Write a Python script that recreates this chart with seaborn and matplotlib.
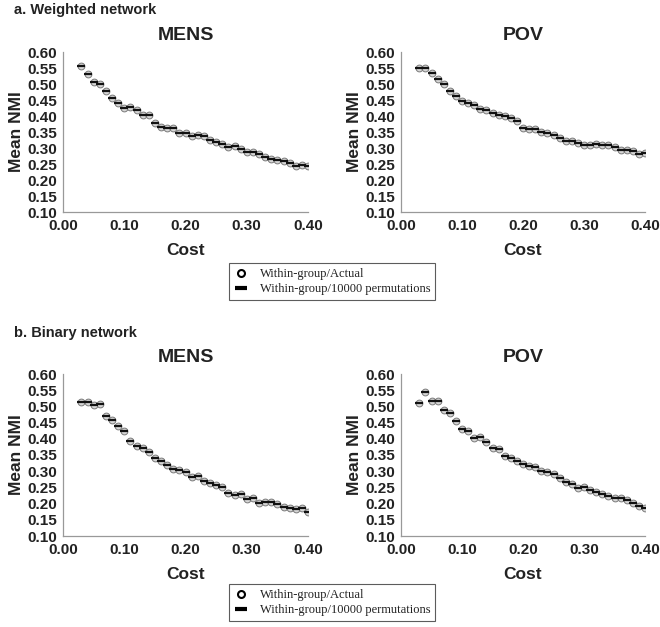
import matplotlib
matplotlib.use('Agg')
import matplotlib.pyplot as plt
from matplotlib.lines import Line2D
import seaborn as sns

sns.set_style('white')
plt.rcParams['font.family'] = ['Liberation Sans', 'DejaVu Sans']
plt.rcParams['font.weight'] = 'bold'
plt.rcParams['text.color'] = '#222222'
plt.rcParams['axes.labelcolor'] = '#222222'
plt.rcParams['xtick.color'] = '#222222'
plt.rcParams['ytick.color'] = '#222222'

# --- データ---
cost = [0.03, 0.04, 0.05, 0.06, 0.07, 0.08, 0.09, 0.10, 0.11, 0.12,
        0.13, 0.14, 0.15, 0.16, 0.17, 0.18, 0.19, 0.20, 0.21, 0.22,
        0.23, 0.24, 0.25, 0.26, 0.27, 0.28, 0.29, 0.30, 0.31, 0.32,
        0.33, 0.34, 0.35, 0.36, 0.37, 0.38, 0.39, 0.40]

weighted_mens = [0.555, 0.530, 0.507, 0.500, 0.478, 0.455, 0.442, 0.425, 0.427, 0.418,
                 0.403, 0.403, 0.378, 0.367, 0.363, 0.362, 0.348, 0.348, 0.337, 0.340,
                 0.338, 0.326, 0.318, 0.313, 0.302, 0.306, 0.298, 0.287, 0.287, 0.281,
                 0.271, 0.267, 0.261, 0.260, 0.252, 0.245, 0.247, 0.243]
weighted_pov = [0.551, 0.551, 0.533, 0.517, 0.500, 0.479, 0.463, 0.447, 0.440, 0.433,
                0.423, 0.418, 0.410, 0.402, 0.399, 0.393, 0.383, 0.363, 0.360, 0.360,
                0.350, 0.347, 0.340, 0.330, 0.323, 0.321, 0.316, 0.310, 0.309, 0.311,
                0.309, 0.309, 0.303, 0.294, 0.294, 0.290, 0.281, 0.283]
binary_mens = [0.515, 0.515, 0.505, 0.506, 0.469, 0.457, 0.441, 0.424, 0.394, 0.379,
               0.373, 0.360, 0.342, 0.333, 0.320, 0.308, 0.304, 0.298, 0.282, 0.285,
               0.271, 0.264, 0.257, 0.252, 0.232, 0.227, 0.229, 0.213, 0.216, 0.203,
               0.205, 0.205, 0.199, 0.190, 0.186, 0.184, 0.187, 0.174]
binary_pov = [0.509, 0.545, 0.517, 0.517, 0.489, 0.481, 0.455, 0.431, 0.423, 0.402,
              0.405, 0.390, 0.371, 0.370, 0.347, 0.340, 0.333, 0.321, 0.315, 0.313,
              0.302, 0.296, 0.292, 0.279, 0.268, 0.260, 0.249, 0.250, 0.241, 0.235,
              0.229, 0.223, 0.218, 0.217, 0.210, 0.203, 0.192, 0.185]

y_ticks = [0.10, 0.15, 0.20, 0.25, 0.30, 0.35, 0.40, 0.45, 0.50, 0.55, 0.60]
x_ticks = [0.00, 0.10, 0.20, 0.30, 0.40]
legend_labels = ['Within-group/Actual', 'Within-group/10000 permutations']

fig = plt.figure(figsize=(6.6, 6.27), dpi=100)

W, H = 660, 627


def make_ax(left, right, top, bottom):
    return fig.add_axes([left / W, 1 - bottom / H, (right - left) / W, (bottom - top) / H])


def draw_panel(ax, values, title):
    # 実測値（灰色の丸）と並べ替え平均（黒いダッシュ）
    sns.scatterplot(x=cost, y=values, ax=ax, marker='o', s=24,
                    color='#d6d6d6', edgecolor='#7a7a7a', linewidth=0.7, zorder=3)
    sns.scatterplot(x=cost, y=values, ax=ax, marker='_', s=26,
                    color='#111111', linewidth=1.6, zorder=4)
    ax.set_xlim(0, 0.40)
    ax.set_ylim(0.10, 0.60)
    ax.set_xticks(x_ticks)
    ax.set_yticks(y_ticks)
    ax.set_xticklabels([f'{t:.2f}' for t in x_ticks], fontsize=11, fontweight='bold')
    ax.set_yticklabels([f'{t:.2f}' for t in y_ticks], fontsize=11, fontweight='bold')
    ax.tick_params(axis='y', direction='out', length=3, width=0.8, color='#888888', pad=1)
    ax.tick_params(axis='x', direction='in', length=3, width=0.8, color='#888888', pad=5)
    for s in ['top', 'right']:
        ax.spines[s].set_visible(False)
    for s in ['left', 'bottom']:
        ax.spines[s].set_color('#999999')
        ax.spines[s].set_linewidth(0.9)
    ax.set_title(title, fontsize=14, fontweight='bold', pad=9)
    ax.set_xlabel('Cost', fontsize=12.5, fontweight='bold', labelpad=7)
    ax.set_ylabel('Mean NMI', fontsize=12.5, fontweight='bold', labelpad=3)
    ax.patch.set_alpha(0)


ax1 = make_ax(63, 308, 52, 212)
ax2 = make_ax(401, 645, 52, 212)
ax3 = make_ax(63, 308, 374, 536)
ax4 = make_ax(401, 645, 374, 536)

draw_panel(ax1, weighted_mens, 'MENS')
draw_panel(ax2, weighted_pov, 'POV')
draw_panel(ax3, binary_mens, 'MENS')
draw_panel(ax4, binary_pov, 'POV')

fig.text(14 / W, 1 - 10 / H, 'a. Weighted network', fontsize=10.5, fontweight='bold', va='center')
fig.text(14 / W, 1 - 333 / H, 'b. Binary network', fontsize=10.5, fontweight='bold', va='center')

handles = [Line2D([], [], marker='o', linestyle='none', markerfacecolor='white',
                  markeredgecolor='black', markeredgewidth=1.5, markersize=5),
           Line2D([], [], marker='_', linestyle='none', color='black',
                  markeredgewidth=3, markersize=9)]

for top, bottom in [(265, 298), (588, 617)]:
    leg = fig.legend(handles, legend_labels, loc='center',
                     bbox_to_anchor=(332 / W, 1 - (top + bottom) / 2 / H),
                     prop={'family': ['Liberation Serif', 'DejaVu Serif'], 'size': 9, 'weight': 'normal'},
                     frameon=True, fancybox=False, edgecolor='#333333',
                     handlelength=1.2, handletextpad=0.9, borderpad=0.4,
                     labelspacing=0.25, borderaxespad=0)
    leg.get_frame().set_linewidth(0.8)
    for t in leg.get_texts():
        t.set_color('#222222')

fig.savefig('out.png', dpi=100)
